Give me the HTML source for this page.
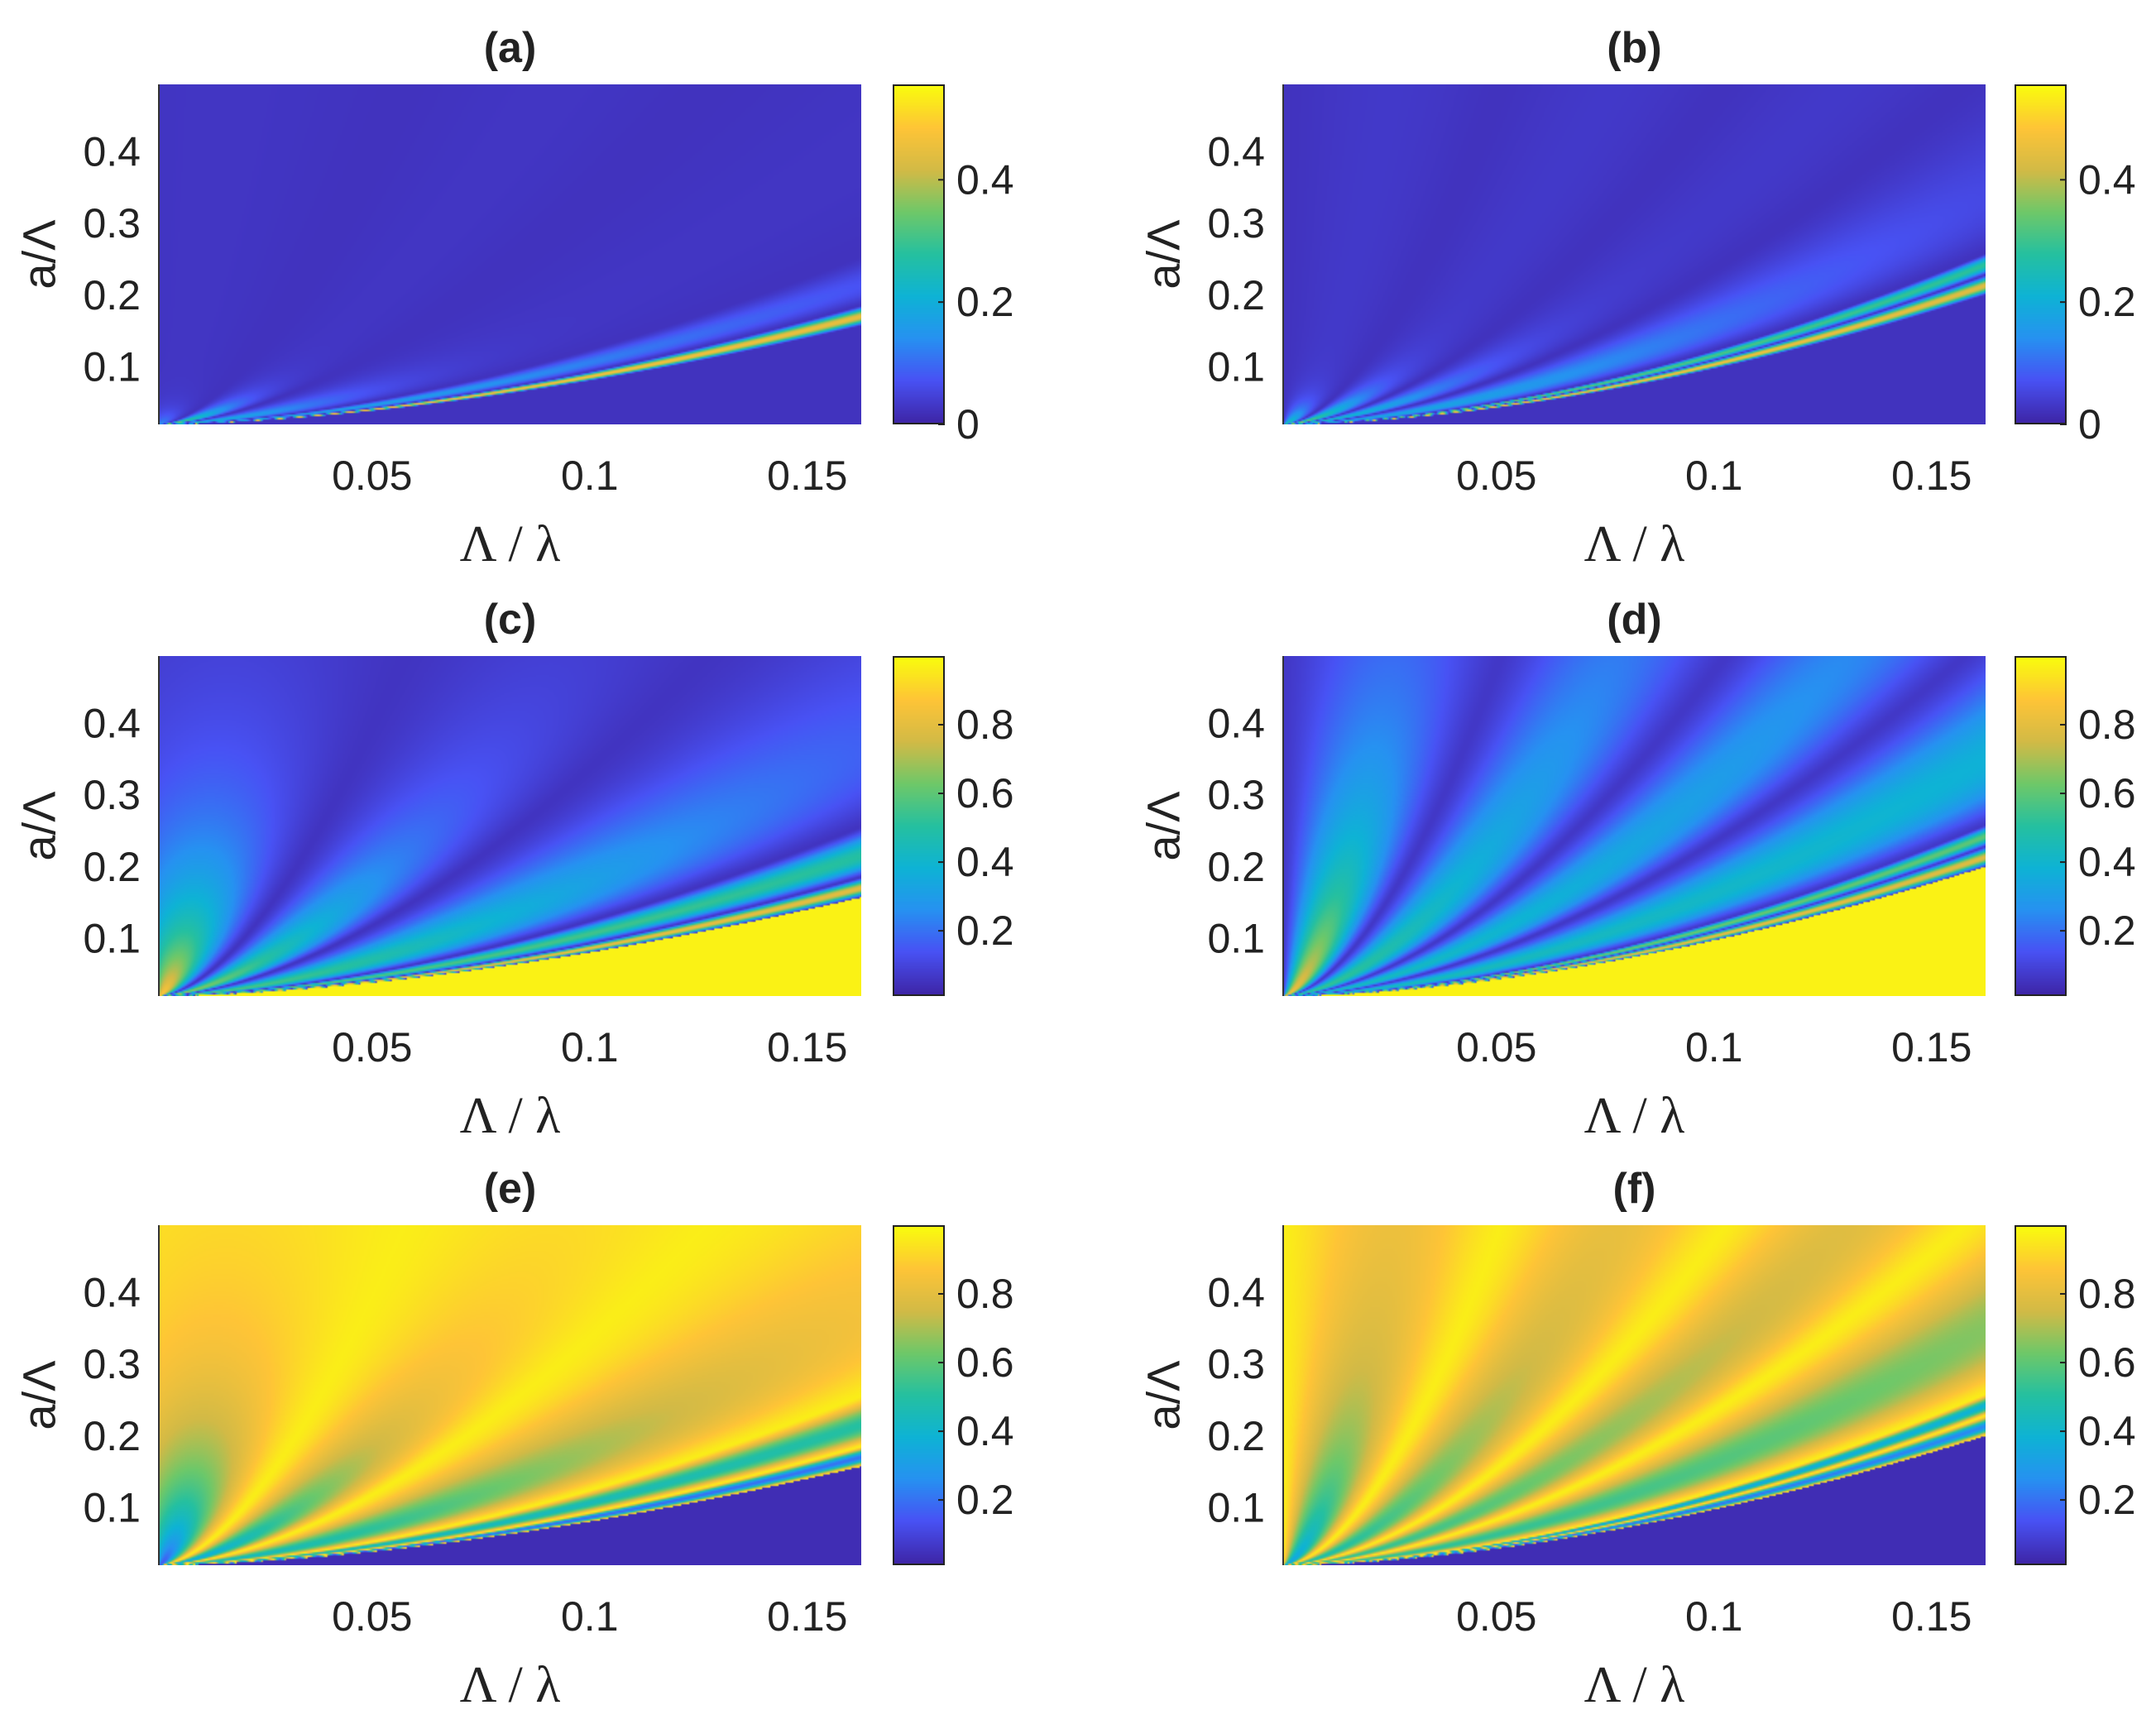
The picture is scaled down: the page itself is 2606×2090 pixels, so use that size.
<!DOCTYPE html>
<html><head><meta charset="utf-8"><title>Heatmaps (a)-(f)</title>
<style>
html,body{margin:0;padding:0;background:#fff;}
#fig{position:relative;width:2606px;height:2090px;overflow:hidden;background:#fff;}
canvas{position:absolute;}
svg{position:absolute;left:0;top:0;}
</style></head>
<body>
<div id="fig">
<svg id="ov" width="2606" height="2090"></svg>
</div>
<script>
// ---- data ----
const xDomain = [0.001, 0.1624];
const yDomain = [0.02, 0.494];
const xTicks = [0.05, 0.1, 0.15];
const xTickLabels = ["0.05", "0.1", "0.15"];
const yTicks = [0.1, 0.2, 0.3, 0.4];
const yTickLabels = ["0.1", "0.2", "0.3", "0.4"];
const cbTicksSmall = [0, 0.2, 0.4];
const cbTickLabelsSmall = ["0", "0.2", "0.4"];
const cbTicksBig = [0.2, 0.4, 0.6, 0.8];
const cbTickLabelsBig = ["0.2", "0.4", "0.6", "0.8"];
const panelTitles = ["(a)", "(b)", "(c)", "(d)", "(e)", "(f)"];

// resonance-band (stripe) positions in phase coordinate, lobe peaks and decay heights
const stripesA = [-0.15, 0.35, 0.78, 1.52, 1.88, 2.1];
const lobePeakA = [0.15, 0.4, 0.25, 0.2, 0.5];
const lobeDecayA = [0.03, 0.04, 0.06, 0.3, 3];
const stripesB = [0.0, 0.31, 0.63, 0.97, 1.49, 1.61, 1.75];
const lobePeakB = [0.3, 0.4, 0.28, 0.2, 0.35, 0.5];
const lobeDecayB = [0.04, 0.06, 0.1, 0.35, 2, 3];
const stripesC = [-0.15, 0.35, 0.78, 1.52, 1.88, 2.1];
const lobePeakC = [0.9, 0.7, 0.6, 0.6, 0.85];
const lobeDecayC = [0.3, 0.3, 0.45, 2, 5];
const stripesD = [0.0, 0.31, 0.63, 0.97, 1.49, 1.61, 1.75];
const lobePeakD = [0.85, 0.55, 0.45, 0.45, 0.65, 0.85];
const lobeDecayD = [0.5, 0.8, 1.2, 3, 5, 5];
const stripesE = [-0.15, 0.35, 0.78, 1.52, 1.88, 2.1];
const lobePeakE = [0.12, 0.3, 0.4, 0.4, 0.15];
const lobeDecayE = [0.3, 0.3, 0.45, 2, 5];
const stripesF = [0.0, 0.31, 0.63, 0.97, 1.49, 1.61, 1.75];
const lobePeakF = [0.3, 0.45, 0.5, 0.5, 0.3, 0.15];
const lobeDecayF = [0.35, 0.45, 0.6, 1.2, 3, 3];
// background (far from lobes), stripe value, fill value below boundary
const levelsA = [0.025, 0.02, 0.02];
const levelsB = [0.03, 0.02, 0.02];
const levelsC = [0.06, 0.05, 0.98];
const levelsD = [0.08, 0.06, 0.98];
const levelsE = [0.95, 0.97, 0.03];
const levelsF = [0.86, 0.97, 0.03];
const colorRangeSmall = [0, 0.556];
const colorRangeBig = [0.01, 1.0];

// parula colormap stops
const parula = [
 [0.00,[62,38,168]],[0.125,[72,82,244]],[0.25,[38,146,241]],[0.375,[14,179,213]],
 [0.5,[37,192,160]],[0.625,[110,200,105]],[0.75,[210,186,70]],[0.875,[254,196,55]],[1.0,[249,251,14]]];

function cmap(t){
  t=Math.max(0,Math.min(1,t));
  for(let i=1;i<parula.length;i++){
    if(t<=parula[i][0]){
      const a=parula[i-1],b=parula[i];const f=(t-a[0])/(b[0]-a[0]);
      return [a[1][0]+(b[1][0]-a[1][0])*f,a[1][1]+(b[1][1]-a[1][1])*f,a[1][2]+(b[1][2]-a[1][2])*f];
    }
  }
  return parula[parula.length-1][1];
}

const colX=[192,1551], plotW=849;
const rowY=[102,793,1481], plotH=411;
const cbX=[1079,2435], cbW=63;

const panels=[
 {stripes:stripesA,peak:lobePeakA,decay:lobeDecayA,lv:levelsA,p:0.6,cr:colorRangeSmall,ct:cbTicksSmall,cl:cbTickLabelsSmall},
 {stripes:stripesB,peak:lobePeakB,decay:lobeDecayB,lv:levelsB,p:0.58,cr:colorRangeSmall,ct:cbTicksSmall,cl:cbTickLabelsSmall},
 {stripes:stripesC,peak:lobePeakC,decay:lobeDecayC,lv:levelsC,p:0.6,cr:colorRangeBig,ct:cbTicksBig,cl:cbTickLabelsBig},
 {stripes:stripesD,peak:lobePeakD,decay:lobeDecayD,lv:levelsD,p:0.58,cr:colorRangeBig,ct:cbTicksBig,cl:cbTickLabelsBig},
 {stripes:stripesE,peak:lobePeakE,decay:lobeDecayE,lv:levelsE,p:0.6,cr:colorRangeBig,ct:cbTicksBig,cl:cbTickLabelsBig},
 {stripes:stripesF,peak:lobePeakF,decay:lobeDecayF,lv:levelsF,p:0.58,cr:colorRangeBig,ct:cbTicksBig,cl:cbTickLabelsBig}
];

function field(u,v,P){
  const s=P.stripes;
  const phi=u/Math.pow(Math.max(v,0.002),P.p);
  const bg=P.lv[0],mn=P.lv[1],fill=P.lv[2];
  if(phi>=s[s.length-1]) return fill;
  let k=0;
  while(k<s.length-2 && phi>=s[k+1]) k++;
  let t=(phi-s[k])/(s[k+1]-s[k]); t=Math.max(0,Math.min(1,t));
  const shape=Math.pow(Math.sin(Math.PI*t),1.4);
  const pk=bg+(P.peak[k]-bg)*Math.exp(-v/P.decay[k]);
  return mn+(pk-mn)*shape;
}

const fig=document.getElementById('fig');
const ov=document.getElementById('ov');
const NS='http://www.w3.org/2000/svg';
function txt(x,y,s,opts){
  const t=document.createElementNS(NS,'text');
  t.setAttribute('x',x);t.setAttribute('y',y);
  t.setAttribute('font-family',opts.font||'"Liberation Sans", sans-serif');
  t.setAttribute('font-size',opts.size||50);
  t.setAttribute('text-anchor',opts.anchor||'middle');
  t.setAttribute('dominant-baseline','central');
  t.setAttribute('fill','#222');
  if(opts.bold)t.setAttribute('font-weight','bold');
  if(opts.rot)t.setAttribute('transform','rotate(-90 '+x+' '+y+')');
  t.textContent=s;ov.appendChild(t);return t;
}

panels.forEach((P,i)=>{
  const L=colX[i%2], T=rowY[Math.floor(i/2)], CB=cbX[i%2];
  const xs=v=>L+(v-xDomain[0])/(xDomain[1]-xDomain[0])*plotW;
  const ys=v=>T+plotH-(v-yDomain[0])/(yDomain[1]-yDomain[0])*plotH;
  const cw=425,ch=206;
  const c=document.createElement('canvas');
  c.width=cw;c.height=ch;
  c.style.left=L+'px';c.style.top=T+'px';c.style.width=plotW+'px';c.style.height=plotH+'px';
  
  
  fig.insertBefore(c,ov);
  const ctx=c.getContext('2d');const img=ctx.createImageData(cw,ch);
  for(let py=0;py<ch;py++){
    const v=1-(py+0.5)/ch;
    for(let px=0;px<cw;px++){
      const u=(px+0.5)/cw;
      const val=field(u,v,P);
      const col=cmap((val-P.cr[0])/(P.cr[1]-P.cr[0]));
      const o=(py*cw+px)*4;img.data[o]=col[0];img.data[o+1]=col[1];img.data[o+2]=col[2];img.data[o+3]=255;
    }
  }
  ctx.putImageData(img,0,0);
  const cb=document.createElement('canvas');
  cb.width=1;cb.height=256;
  cb.style.left=CB+'px';cb.style.top=T+'px';cb.style.width=cbW+'px';cb.style.height=plotH+'px';
  cb.style.boxSizing='border-box';cb.style.border='2px solid #222';
  
  
  fig.insertBefore(cb,ov);
  const cctx=cb.getContext('2d');const cimg=cctx.createImageData(1,256);
  for(let j=0;j<256;j++){const col=cmap(1-j/255);cimg.data[j*4]=col[0];cimg.data[j*4+1]=col[1];cimg.data[j*4+2]=col[2];cimg.data[j*4+3]=255;}
  cctx.putImageData(cimg,0,0);
  const cys=v=>T+plotH-(v-P.cr[0])/(P.cr[1]-P.cr[0])*plotH;
  P.ct.forEach((tv,j)=>{
    const t=txt(CB+cbW+14,cys(tv),P.cl[j],{anchor:'start',size:50});
    
    
    const m=document.createElementNS(NS,'line');
    m.setAttribute('x1',CB+cbW-8);m.setAttribute('x2',CB+cbW);m.setAttribute('y1',cys(tv));m.setAttribute('y2',cys(tv));
    m.setAttribute('stroke','#222');m.setAttribute('stroke-width',2);
    
    
    ov.appendChild(m);
  });
  const ax=document.createElementNS(NS,'line');
  ax.setAttribute('x1',L);ax.setAttribute('x2',L);ax.setAttribute('y1',T);ax.setAttribute('y2',T+plotH);
  ax.setAttribute('stroke','#333');ax.setAttribute('stroke-width',2);
  
  
  ov.appendChild(ax);
  xTicks.forEach((tv,j)=>{
    const t=txt(xs(tv),T+plotH+62,xTickLabels[j],{size:50});
    
    
  });
  yTicks.forEach((tv,j)=>{
    const t=txt(L-22,ys(tv),yTickLabels[j],{anchor:'end',size:50});
    
    
  });
  const tt=txt(L+plotW/2,T-44,panelTitles[i],{bold:true,size:52});
  
  
  const xl=txt(L+plotW/2,T+plotH+145,'Λ / λ',{font:'"Liberation Serif", serif',size:62});
  
  
  const yl=txt(L-145,T+plotH/2,'a/Λ',{size:56,rot:true});
  
  
});
</script>
</body></html>
